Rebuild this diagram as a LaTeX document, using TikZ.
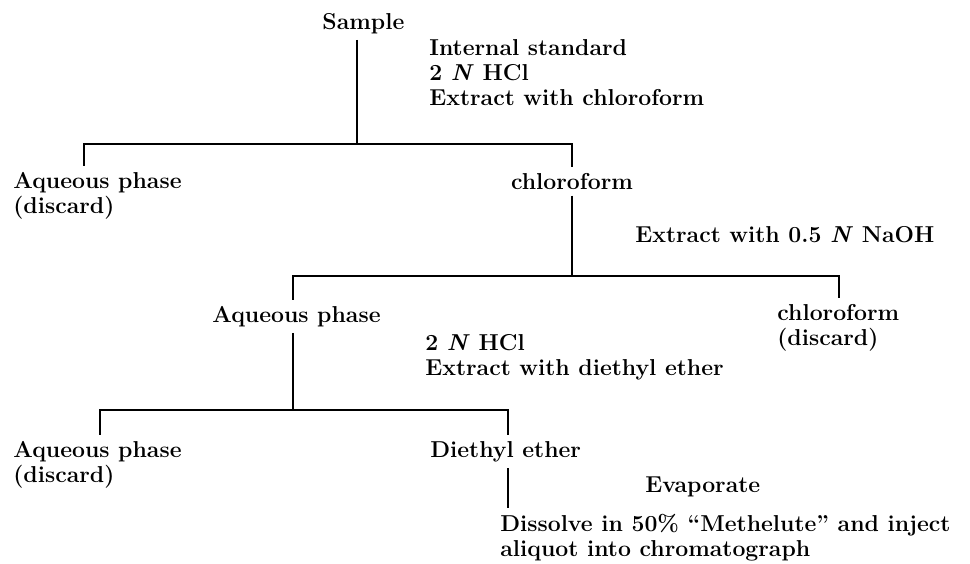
\documentclass[tikz,border=0pt]{standalone}
\usepackage{fontspec}
\usepackage{tikz}

\begin{document}
\begin{tikzpicture}[x=0.5pt, y=-0.5pt,
    step_txt/.style={
        font=\fontsize{11.5}{12.4}\selectfont\bfseries,
        inner xsep=0pt, inner ysep=3pt, align=left, anchor=base west
    },
    wire/.style={-, line width=0.7pt, black},
]

\useasboundingbox (0,0) rectangle (970,563);

% --- Columnas ---
\def\xleft{84}
\def\xleftC{100}
\def\xsplit{357}
\def\xchl{572}
\def\xaq{293}
\def\xchr{839}
\def\xeth{508}

% --- Barras horizontales ---
\def\ybarA{144}
\def\ybarB{276}
\def\ybarC{410}

% --- Muestra y primera extraccion (base = ultima linea) ---
\node[step_txt] (sample) at (322,29) {Sample};
\node[step_txt] (reagA) at (429,105) {Internal standard\\2 \textit{N} HCl\\Extract with chloroform};

\node[step_txt] (aqA)  at (13,213) {Aqueous phase\\(discard)};
\node[step_txt, anchor=base] (chlA) at (\xchl,189) {chloroform};

\coordinate (splitA) at (\xsplit,\ybarA);
\coordinate (barA_l) at (\xleft,\ybarA);
\coordinate (barA_r) at (\xchl,\ybarA);

\draw[wire] (sample.south -| splitA) -- (splitA);
\draw[wire] (aqA.north -| barA_l) -- (barA_l) -- (barA_r) -- (chlA.north -| barA_r);

% --- Extraccion con NaOH ---
\node[step_txt] (reagB) at (635,242) {Extract with 0.5 \textit{N} NaOH};

\node[step_txt] (aqB)  at (212,322) {Aqueous phase};
\node[step_txt] (chlB) at (777,345) {chloroform\\(discard)};

\coordinate (barB_l) at (\xaq,\ybarB);
\coordinate (barB_r) at (\xchr,\ybarB);

\draw[wire] (chlA.south) -- (chlA.south |- barB_r);
\draw[wire] (aqB.north -| barB_l) -- (barB_l) -- (barB_r) -- (chlB.north -| barB_r);

% --- Extraccion con eter ---
\node[step_txt] (reagC) at (425,375) {2 \textit{N} HCl\\Extract with diethyl ether};

\node[step_txt] (aqC)   at (13,482) {Aqueous phase\\(discard)};
\node[step_txt] (ether) at (430,457) {Diethyl ether};

\coordinate (barC_l) at (\xleftC,\ybarC);
\coordinate (barC_r) at (\xeth,\ybarC);

\draw[wire] (aqB.south -| barB_l) -- (barB_l |- barC_l);
\draw[wire] (aqC.north -| barC_l) -- (barC_l) -- (barC_r) -- (ether.north -| barC_r);

% --- Evaporacion e inyeccion ---
\node[step_txt] (evap) at (645,492) {Evaporate};
\node[step_txt] (inject) at (500,556) {Dissolve in 50\% ``Methelute'' and inject\\aliquot into chromatograph};

\draw[wire] (ether.south -| barC_r) -- (inject.north -| barC_r);

\end{tikzpicture}
\end{document}
